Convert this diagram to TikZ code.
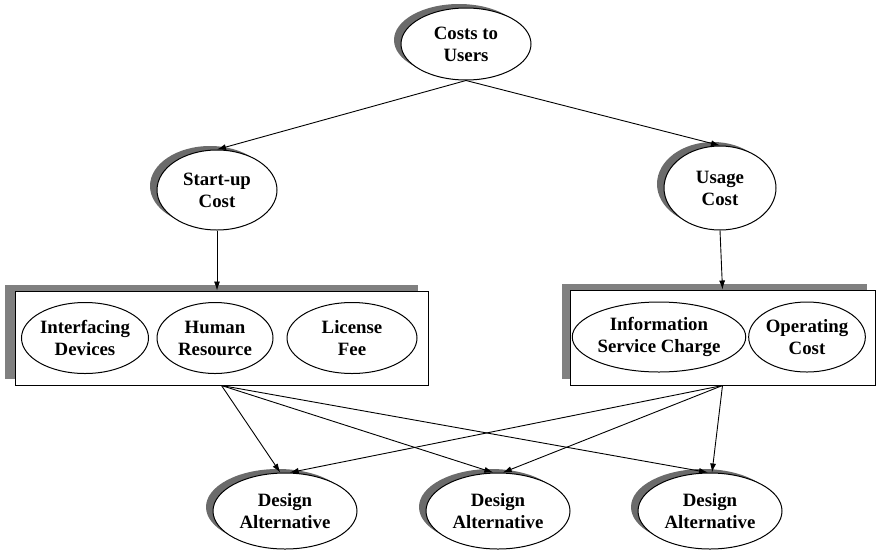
\documentclass[tikz,border=0pt]{standalone}
\usepackage{fontspec}
\setmainfont{Liberation Serif}
\usetikzlibrary{shadows,arrows.meta,shapes.geometric}
\begin{document}
\begin{tikzpicture}[x=1pt,y=-1pt,
  lbl/.style={font=\bfseries\fontsize{18.8}{22}\selectfont, align=center, inner sep=0pt},
  oval/.style={ellipse, draw, line width=1pt, fill=white, lbl},
  sub/.style={ellipse, draw, line width=1pt, fill=white, lbl},
  shade/.style={drop shadow={shadow xshift=-7pt, shadow yshift=4pt, fill=black!58, opacity=1}},
  group/.style={rectangle, draw, line width=1pt, fill=white, inner sep=0pt},
  arr/.style={-{Latex[length=9pt,width=6pt]}, line width=0.9pt}]
\useasboundingbox (0,0) rectangle (885,552);

% top goal
\node[oval, shade, minimum width=130pt, minimum height=72pt] (users) at (466,44) {Costs to\\Users};

% cost categories
\node[oval, shade, minimum width=120pt, minimum height=80pt] (start) at (217,190) {Start-up\\Cost};
\node[oval, shade, minimum width=112pt, minimum height=84pt] (usage) at (720,188) {Usage\\Cost};

% grouped cost items
\node[group, minimum width=413pt, minimum height=94pt,
      drop shadow={shadow xshift=-10pt, shadow yshift=6pt, fill=black!50, opacity=1}] (lbox) at (221.5,338) {};
\node[group, minimum width=305pt, minimum height=95pt,
      drop shadow={shadow xshift=-8pt, shadow yshift=6pt, fill=black!50, opacity=1}] (rbox) at (722.5,337.5) {};

\node[sub, minimum width=116pt, minimum height=71pt] (dev) at (85,338) {Interfacing\\Devices};
\node[sub, minimum width=116pt, minimum height=71pt] (hr) at (215,338) {Human\\Resource};
\node[sub, minimum width=130pt, minimum height=71pt] (lic) at (352,338) {License\\Fee};
\node[sub, minimum width=152pt, minimum height=70pt] (info) at (659,337) {Information\\Service Charge};
\node[sub, minimum width=116pt, minimum height=70pt] (oper) at (807,337) {Operating\\Cost};

% alternatives
\node[oval, shade, minimum width=144pt, minimum height=76pt] (da1) at (285,511) {Design\\Alternative};
\node[oval, shade, minimum width=144pt, minimum height=76pt] (da2) at (498,511) {Design\\Alternative};
\node[oval, shade, minimum width=144pt, minimum height=76pt] (da3) at (710,511) {Design\\Alternative};

% connectors
\draw[arr] (users.south) -- (start.north);
\draw[arr] (users.south) -- (usage.north);
\draw[arr] (start.south) -- (start.south |- lbox.north);
\draw[arr] (usage.south) -- (rbox.north);

\draw[arr] (lbox.south) -- (da1.97);
\draw[arr] (lbox.south) -- (da2.97);
\draw[arr] (lbox.south) -- (da3.93);
\draw[arr] (rbox.south) -- (da1.83);
\draw[arr] (rbox.south) -- (da2.83);
\draw[arr] (rbox.south) -- (da3.87);
\end{tikzpicture}
\end{document}
